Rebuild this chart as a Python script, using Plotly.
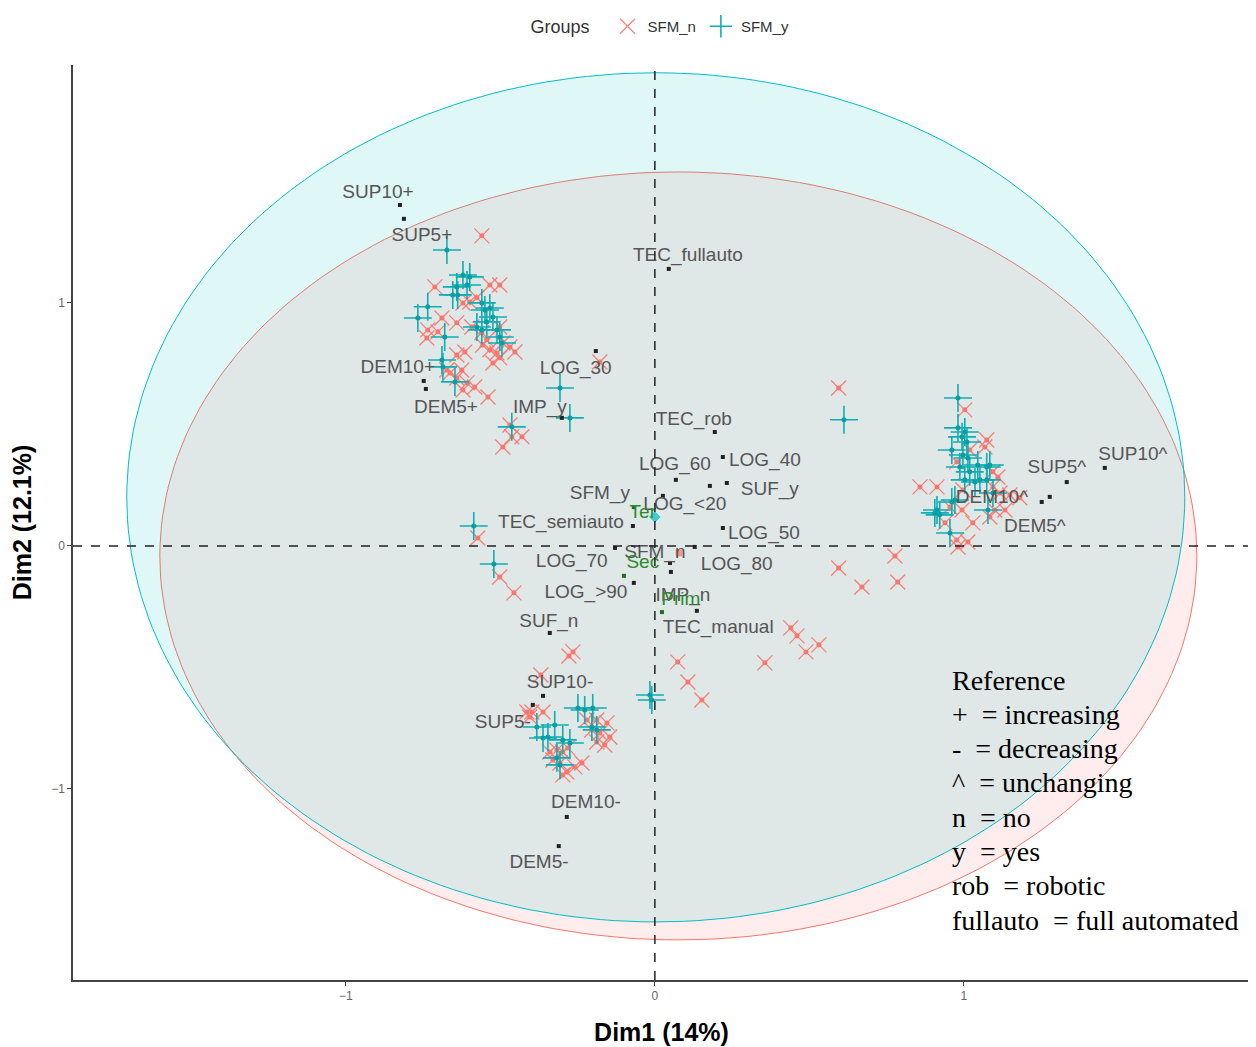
import numpy as np
import plotly.graph_objects as go

# ---------------- data ----------------
# individuals, group SFM_n (red x)
n_x = [-0.560, -0.712, -0.534, -0.502, -0.621, -0.576, -0.599, -0.689, -0.641, -0.735,
       -0.702, -0.738, -0.592, -0.560, -0.544, -0.557, -0.502, -0.534, -0.511, -0.492,
       -0.469, -0.453, -0.502, -0.524, -0.641, -0.615, -0.673, -0.625, -0.641, -0.663,
       -0.608, -0.583, -0.621, -0.540, -0.469, -0.430, -0.463, -0.492, -0.178,
       0.595, 0.595, 0.670, 0.777, 0.786, 0.440, 0.460, 0.489, 0.531, 0.356,
       0.074, 0.107, 0.152, -0.573, -0.502, -0.456,
       1.003, 1.074, 1.068, 1.019, 0.977, 1.094, 1.110, 0.858, 0.913, 0.997,
       1.094, 1.117, 0.955, 0.994, 1.029, 1.100, 1.133, 0.939, 0.977, 1.013,
       0.981, 1.084, 1.181, 1.149,
       -0.265, -0.369, -0.414, -0.398, -0.362, -0.405, -0.220, -0.188, -0.155, -0.178,
       -0.146, -0.204, -0.188, -0.162, -0.340, -0.317, -0.298, -0.282, -0.330, -0.307,
       -0.285, -0.259, -0.236, -0.298, -0.278]
n_y = [1.276, 1.066, 1.074, 1.074, 1.000, 1.021, 1.004, 0.938, 0.918, 0.889,
       0.881, 0.856, 0.901, 0.877, 0.848, 0.827, 0.901, 0.807, 0.794, 0.835,
       0.819, 0.798, 0.774, 0.753, 0.786, 0.798, 0.724, 0.724, 0.691, 0.712,
       0.671, 0.654, 0.642, 0.613, 0.498, 0.449, 0.449, 0.407, 0.757,
       0.650, -0.091, -0.169, -0.041, -0.148, -0.337, -0.370, -0.436, -0.407, -0.481,
       -0.477, -0.560, -0.634, 0.033, -0.128, -0.193,
       0.560, 0.436, 0.407, 0.395, 0.346, 0.305, 0.284, 0.243, 0.243, 0.230,
       0.243, 0.218, 0.160, 0.148, 0.095, 0.148, 0.148, 0.095, 0.025, 0.016,
       -0.004, 0.119, 0.198, 0.210,
       -0.436, -0.531, -0.683, -0.683, -0.683, -0.704, -0.716, -0.716, -0.728, -0.770,
       -0.786, -0.757, -0.807, -0.819, -0.848, -0.840, -0.848, -0.831, -0.881, -0.893,
       -0.930, -0.909, -0.893, -0.942, -0.453]

# individuals, group SFM_y (cyan +)
y_x = [-0.673, -0.621, -0.599, -0.608, -0.641, -0.638, -0.654, -0.735, -0.767, -0.560,
       -0.550, -0.534, -0.524, -0.544, -0.576, -0.560, -0.680, -0.511, -0.502, -0.495,
       -0.689, -0.686, -0.647, -0.307, -0.275, -0.463,
       0.612, -0.016, -0.010, -0.586, -0.521,
       0.981, 0.981, 1.003, 0.994, 1.010, 0.961, 0.997, 1.013, 1.045, 1.074,
       1.084, 0.987, 1.019, 1.003, 1.036, 1.052, 1.074, 0.971, 0.961, 0.913,
       0.906, 0.922, 0.955, 1.094, 1.078,
       -0.382, -0.324, -0.249, -0.227, -0.201, -0.346, -0.362, -0.298, -0.275, -0.317,
       -0.307, -0.204, -0.188]
y_y = [1.218, 1.115, 1.107, 1.074, 1.066, 1.033, 1.033, 0.984, 0.938, 1.000,
       0.971, 0.979, 0.942, 0.922, 0.901, 0.889, 0.860, 0.889, 0.860, 0.835,
       0.765, 0.737, 0.675, 0.650, 0.527, 0.490,
       0.519, -0.613, -0.634, 0.082, -0.074,
       0.609, 0.486, 0.469, 0.449, 0.428, 0.395, 0.374, 0.362, 0.333, 0.325,
       0.333, 0.325, 0.305, 0.272, 0.263, 0.272, 0.272, 0.189, 0.181, 0.148,
       0.136, 0.128, 0.053, 0.218, 0.148,
       -0.745, -0.737, -0.667, -0.675, -0.667, -0.786, -0.790, -0.798, -0.811, -0.872,
       -0.901, -0.745, -0.757]

# group mean points
mean_groups = ["SFM_n", "SFM_y"]
mean_x = [0.078, 0.000]
mean_y = [-0.029, 0.119]

# confidence ellipses (centre, semi-axes)
ell_groups = ["SFM_n", "SFM_y"]
ell_cx = [0.076, 0.003]
ell_cy = [-0.041, 0.200]
ell_rx = [1.678, 1.712]
ell_ry = [1.580, 1.747]

# active categories (black squares + labels)
var_names = ["SUP10+", "SUP5+", "DEM10+", "DEM5+", "LOG_30", "IMP_y", "TEC_fullauto",
             "TEC_rob", "LOG_60", "LOG_40", "SUF_y", "LOG_<20", "SFM_y", "TEC_semiauto",
             "LOG_50", "LOG_70", "SFM_n", "LOG_80", "LOG_>90", "IMP_n", "SUF_n",
             "TEC_manual", "SUP10^", "SUP5^", "DEM10^", "DEM5^",
             "SUP10-", "SUP5-", "DEM10-", "DEM5-"]
var_x = [-0.825, -0.812, -0.748, -0.741, -0.191, -0.301, 0.045,
         0.194, 0.068, 0.220, 0.233, 0.178, 0.026, -0.071,
         0.220, -0.129, 0.049, 0.129, -0.068, 0.136, -0.340,
         0.052, 1.456, 1.333, 1.278, 1.252,
         -0.362, -0.395, -0.285, -0.311]
var_y = [1.403, 1.346, 0.679, 0.646, 0.802, 0.527, 1.140,
         0.469, 0.272, 0.366, 0.259, 0.247, 0.206, 0.082,
         0.074, -0.008, -0.070, -0.004, -0.152, -0.267, -0.358,
         -0.107, 0.321, 0.263, 0.202, 0.181,
         -0.617, -0.654, -1.115, -1.235]
lab_x = [-0.896, -0.754, -0.832, -0.676, -0.256, -0.372, 0.107,
         0.126, 0.065, 0.356, 0.372, 0.097, -0.178, -0.304,
         0.353, -0.269, 0.000, 0.265, -0.223, 0.091, -0.343,
         0.205, 1.547, 1.301, 1.091, 1.230,
         -0.307, -0.492, -0.223, -0.375]
lab_y = [1.453, 1.276, 0.733, 0.568, 0.728, 0.568, 1.193,
         0.519, 0.333, 0.350, 0.230, 0.169, 0.214, 0.095,
         0.049, -0.066, -0.029, -0.078, -0.193, -0.206, -0.313,
         -0.338, 0.374, 0.321, 0.198, 0.078,
         -0.564, -0.728, -1.058, -1.305]

# supplementary categories (green)
sup_names = ["Ter", "Sec", "Prim"]
sup_x = [-0.068, -0.100, 0.023]
sup_y = [0.160, -0.123, -0.272]
sup_lab_x = [-0.039, -0.039, 0.084]
sup_lab_y = [0.136, -0.070, -0.222]

x_ticks = [-1, 0, 1]
y_ticks = [-1, 0, 1]

ref_lines = ["Reference", "+\u00a0\u00a0= increasing", "-\u00a0\u00a0= decreasing",
             "^\u00a0\u00a0= unchanging", "n\u00a0\u00a0= no", "y\u00a0\u00a0= yes",
             "rob\u00a0\u00a0= robotic", "fullauto\u00a0\u00a0= full automated"]

# ---------------- styles ----------------
RED = "#F8766D"
CYAN = "#00BFC4"
fill_col = {"SFM_n": "rgba(248,118,109,0.13)", "SFM_y": "rgba(0,191,196,0.12)"}
line_col = {"SFM_n": RED, "SFM_y": CYAN}

W, H = 1248, 1039          # page body adds an 8px offset
ML, MR, MT, MB = 65, 6, 57, 67
plot_w = W - ML - MR
plot_h = H - MT - MB

fig = go.Figure()

t = np.linspace(0, 2 * np.pi, 241)
for g, cx, cy, rx, ry in zip(ell_groups, ell_cx, ell_cy, ell_rx, ell_ry):
    fig.add_trace(go.Scatter(x=cx + rx * np.cos(t), y=cy + ry * np.sin(t), mode="lines",
                             fill="toself", fillcolor=fill_col[g],
                             line=dict(color=line_col[g], width=1),
                             hoverinfo="skip", showlegend=False))

# reference dashed lines
fig.add_shape(type="line", xref="x", yref="paper", x0=0, x1=0, y0=0, y1=1,
              line=dict(color="#222", width=1.5, dash="dash"))
fig.add_shape(type="line", xref="paper", yref="y", x0=0, x1=1, y0=0, y1=0,
              line=dict(color="#222", width=1.5, dash="dash"))

# individuals
fig.add_trace(go.Scatter(x=n_x, y=n_y, mode="markers", name="SFM_n", legendgroup="n",
                         marker=dict(symbol="x-thin", size=15,
                                     line=dict(color="rgba(248,118,109,0.9)", width=1.3))))
fig.add_trace(go.Scatter(x=n_x, y=n_y, mode="markers", legendgroup="n", showlegend=False,
                         marker=dict(symbol="circle", size=5, color=RED)))
fig.add_trace(go.Scatter(x=y_x, y=y_y, mode="markers", name="SFM_y", legendgroup="y",
                         marker=dict(symbol="cross-thin", size=20,
                                     line=dict(color="#10AEB4", width=1.6))))
fig.add_trace(go.Scatter(x=y_x, y=y_y, mode="markers", legendgroup="y", showlegend=False,
                         marker=dict(symbol="circle", size=5, color="#0a9ea4")))

# group means
fig.add_trace(go.Scatter(x=mean_x, y=mean_y, mode="markers", showlegend=False,
                         marker=dict(symbol=["square", "diamond"], size=[8, 10],
                                     color=[RED, CYAN])))

# category points and labels
fig.add_trace(go.Scatter(x=var_x, y=var_y, mode="markers", showlegend=False,
                         marker=dict(symbol="square", size=4, color="#222")))
fig.add_trace(go.Scatter(x=lab_x, y=lab_y, mode="text", text=var_names, showlegend=False,
                         textposition="middle center",
                         textfont=dict(family="Arial, Liberation Sans", size=19,
                                       color="#555555")))
fig.add_trace(go.Scatter(x=sup_x, y=sup_y, mode="markers", showlegend=False,
                         marker=dict(symbol="square", size=4, color="#1f6f1f")))
fig.add_trace(go.Scatter(x=sup_lab_x, y=sup_lab_y, mode="text", text=sup_names,
                         showlegend=False, textposition="middle center",
                         textfont=dict(family="Arial, Liberation Sans", size=19,
                                       color="#2f8a2f")))

# reference key, one annotation per line
for i, line in enumerate(ref_lines):
    fig.add_annotation(xref="paper", yref="paper", x=(942 - ML) / plot_w,
                       y=(plot_h - (672 - MT) - i * 34.3) / plot_h,
                       xanchor="left", yanchor="middle", align="left", showarrow=False,
                       text=line,
                       font=dict(family="Liberation Serif, Times New Roman", size=28,
                                 color="black"))

axis_common = dict(showgrid=False, zeroline=False, showline=True, linecolor="#444",
                   linewidth=1.5, ticks="outside", ticklen=4, tickcolor="#444",
                   automargin=False,
                   tickfont=dict(family="Arial, Liberation Sans", size=12, color="#666"))

fig.update_layout(
    width=W, height=H,
    margin=dict(l=ML, r=MR, t=MT, b=MB),
    plot_bgcolor="white", paper_bgcolor="white",
    xaxis=dict(range=[-1.883, 1.926], tickvals=x_ticks,
               title=dict(text="<b>Dim1 (14%)</b>", standoff=21,
                          font=dict(family="Arial, Liberation Sans", size=25, color="black")),
               **axis_common),
    yaxis=dict(range=[-1.786, 1.979], tickvals=y_ticks,
               title=dict(text="<b>Dim2 (12.1%)</b>", standoff=14,
                          font=dict(family="Arial, Liberation Sans", size=25, color="black")),
               **axis_common),
    legend=dict(orientation="h", x=0.5, xanchor="center", xref="paper",
                y=1 - 19 / H, yanchor="middle", yref="container",
                title=dict(text="Groups  ", font=dict(family="Arial, Liberation Sans",
                                                     size=18, color="#333")),
                font=dict(family="Arial, Liberation Sans", size=15, color="#333")),
    showlegend=True,
)

fig.write_html("out.html")
